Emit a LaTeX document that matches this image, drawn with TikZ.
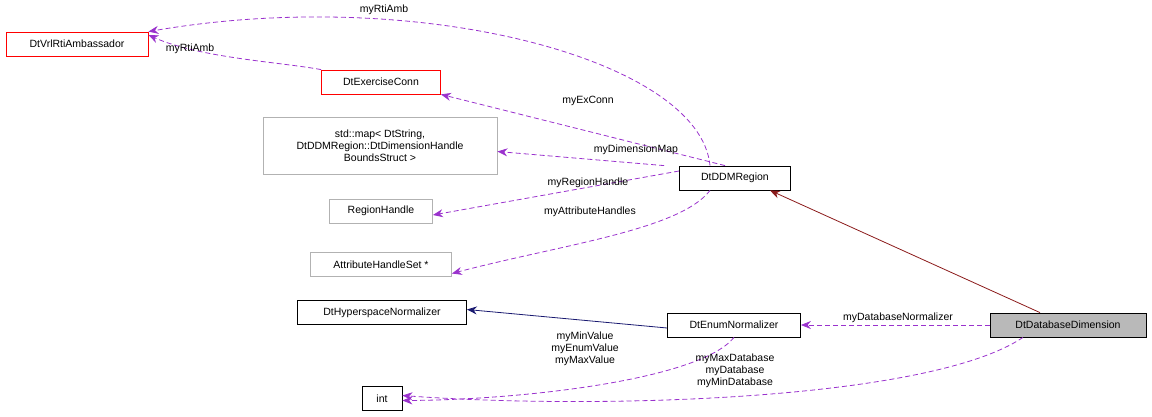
\documentclass[tikz,border=0pt]{standalone}
\usepackage{fontspec}
\setmainfont{Liberation Sans}
\usetikzlibrary{arrows.meta}
\definecolor{edgepurple}{HTML}{9A32CD}
\definecolor{edgered}{HTML}{8B1A1A}
\definecolor{edgeblue}{HTML}{191970}
\begin{document}
\begin{tikzpicture}[x=1pt,y=-1pt,font=\fontsize{10.5}{12}\selectfont,line width=0.8pt,
    cls/.style={draw=black,inner sep=0pt,minimum height=24pt,align=center},
    redcls/.style={cls,draw=red},
    graycls/.style={cls,draw=gray!60},
    member/.style={draw=edgepurple,dash pattern=on 5pt off 3pt,-{Stealth[length=10pt,width=8pt]}},
    lbl/.style={inner sep=1pt,align=center,text=black}]
    \useasboundingbox (0,0) rectangle (1152,417);
    % classes
    \node[redcls,minimum width=142pt] (amb) at (77,44) {DtVrlRtiAmbassador};
    \node[redcls,minimum width=119pt] (exconn) at (381,82) {DtExerciseConn};
    \node[graycls,minimum width=234pt,minimum height=57pt] (map) at (380,145.5) {std::map\textless{} DtString,\\ DtDDMRegion::DtDimensionHandle\\ BoundsStruct \textgreater};
    \node[graycls,minimum width=103pt] (region) at (381,211) {RegionHandle};
    \node[graycls,minimum width=141pt] (attr) at (381,264.5) {AttributeHandleSet *};
    \node[cls,minimum width=111pt] (ddm) at (735,178) {DtDDMRegion};
    \node[cls,minimum width=169pt] (hyper) at (382,312.5) {DtHyperspaceNormalizer};
    \node[cls,minimum width=133pt] (enum) at (734,325) {DtEnumNormalizer};
    \node[cls,minimum width=156pt,fill=gray!55] (dbdim) at (1068,325) {DtDatabaseDimension};
    \node[cls,minimum width=40pt] (int) at (382,398.5) {int};
    % inheritance
    \draw[edgered,-{Stealth[length=10pt,width=8pt]}] ([xshift=-28pt]dbdim.north) -- ([xshift=35pt]ddm.south);
    \draw[edgeblue,-{Stealth[length=10pt,width=8pt]}] ([yshift=-3pt]enum.west) -- ([yshift=3pt]hyper.east);
    % members
    \draw[member] ([xshift=-25pt]ddm.north) .. controls (700,60) and (420,-15) .. (amb.north east);
    \node[lbl] at (384,10) {myRtiAmb};
    \draw[member] (exconn.north west) .. controls (280,62) and (200,58) .. ([yshift=9pt]amb.east);
    \node[lbl] at (190,49) {myRtiAmb};
    \draw[member] ([xshift=-10pt]ddm.north) -- (exconn.south east);
    \node[lbl] at (588,101) {myExConn};
    \draw[member] ([xshift=-15pt]ddm.north west) -- ([yshift=-6pt]map.east);
    \node[lbl] at (636,150) {myDimensionMap};
    \draw[member] ([yshift=7pt]ddm.west) -- ([yshift=-4pt]region.east);
    \node[lbl] at (588,183) {myRegionHandle};
    \draw[member] ([xshift=-25pt]ddm.south) .. controls (680,230) and (560,245) .. ([yshift=-9pt]attr.east);
    \node[lbl] at (590,212) {myAttributeHandles};
    \draw[member] (dbdim.west) -- (enum.east);
    \node[lbl] at (898,318) {myDatabaseNormalizer};
    \draw[member] (enum.south) .. controls (700,380) and (520,400) .. ([yshift=-2pt]int.east);
    \node[lbl] at (585,349) {myMinValue\\myEnumValue\\myMaxValue};
    \draw[member] ([xshift=-45pt]dbdim.south) .. controls (930,400) and (600,410) .. ([yshift=3pt]int.east);
    \node[lbl] at (735,371) {myMaxDatabase\\myDatabase\\myMinDatabase};
\end{tikzpicture}
\end{document}
